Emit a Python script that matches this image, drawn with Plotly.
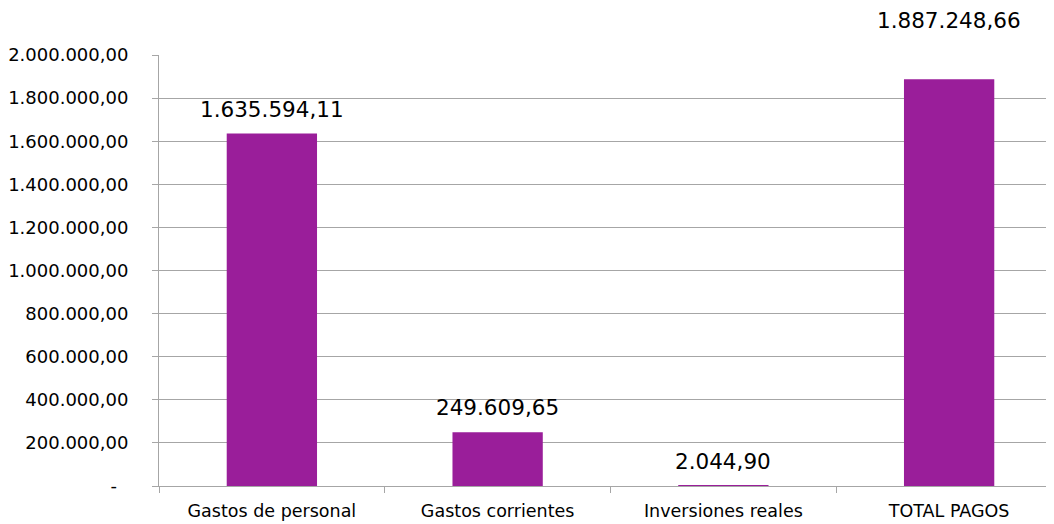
import plotly.graph_objects as go

categories = ["Gastos de personal", "Gastos corrientes", "Inversiones reales", "TOTAL PAGOS"]
values = [1635594.11, 249609.65, 2044.90, 1887248.66]
value_labels = ["1.635.594,11", "249.609,65", "2.044,90", "1.887.248,66"]
label_shift = [10, 10, 10, 44]
tick_vals = [0, 200000, 400000, 600000, 800000, 1000000, 1200000, 1400000, 1600000, 1800000, 2000000]
tick_text = ["-\u00a0\u00a0", "200.000,00", "400.000,00", "600.000,00", "800.000,00",
             "1.000.000,00", "1.200.000,00", "1.400.000,00", "1.600.000,00", "1.800.000,00",
             "2.000.000,00"]

FONT = "DejaVu Sans"
BAR = "#9A1E9A"
GRID = "#A6A6A6"

fig = go.Figure()
fig.add_trace(go.Bar(x=categories, y=values, marker=dict(color=BAR, line=dict(width=0)),
                     width=0.4, hoverinfo="skip"))

for c, v, t, s in zip(categories, values, value_labels, label_shift):
    fig.add_annotation(x=c, y=v, text=t, showarrow=False, yanchor="bottom", yshift=s,
                       font=dict(family=FONT, size=21.5, color="#000000"))

fig.update_layout(
    width=1054, height=524,
    margin=dict(l=151, r=0, t=47, b=46),
    paper_bgcolor="white", plot_bgcolor="white",
    showlegend=False,
    font=dict(family=FONT, size=17.5, color="#000000"),
    bargap=0.6,
)
fig.update_xaxes(
    type="category", range=[-0.5, 3.5], tickson="boundaries",
    ticks="outside", ticklen=6, tickcolor=GRID, ticklabelstandoff=9,
    showline=True, linecolor=GRID, linewidth=1, automargin=False,
    showgrid=False, tickfont=dict(family=FONT, size=17.5, color="#000000"),
)
fig.update_yaxes(
    range=[0, 2000000], tickvals=tick_vals, ticktext=tick_text,
    ticks="outside", ticklen=6, tickcolor=GRID, ticklabelstandoff=20,
    showline=True, linecolor=GRID, linewidth=1, automargin=False,
    showgrid=True, gridcolor=GRID, gridwidth=1, zeroline=False,
    tickfont=dict(family=FONT, size=18, color="#000000"),
)

fig.write_html("out.html")
